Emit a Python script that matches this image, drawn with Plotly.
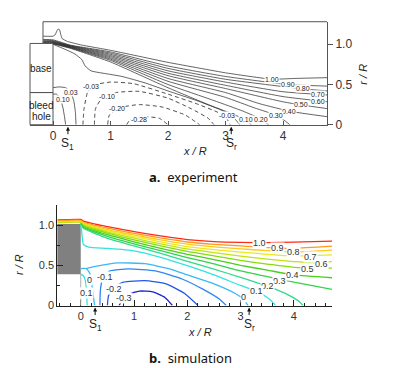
import plotly.graph_objects as go

# ---------------- Panel a (experiment): contour lines as (x/R, r/R) ----------------
a_u100 = [(-0.17, 1.10), (0.0, 1.10), (0.04, 1.12), (0.07, 1.17), (0.09, 1.19), (0.115, 1.18), (0.135, 1.12),
          (0.16, 1.07), (0.25, 1.035), (0.5, 0.99), (1.0, 0.925), (2.0, 0.775), (3.0, 0.645), (3.8, 0.565),
          (4.2, 0.575), (4.77, 0.585)]
a_u090 = [(-0.17, 1.06), (0.0, 1.055), (0.3, 0.99), (1.0, 0.905), (2.0, 0.73), (3.0, 0.60), (4.09, 0.50), (4.77, 0.48)]
a_u080 = [(-0.17, 1.05), (0.0, 1.045), (0.3, 0.985), (1.0, 0.89), (2.0, 0.70), (3.0, 0.565), (4.35, 0.445), (4.77, 0.42)]
a_u070 = [(-0.17, 1.04), (0.0, 1.037), (0.3, 0.98), (1.0, 0.875), (2.0, 0.67), (3.0, 0.53), (4.0, 0.41), (4.77, 0.37)]
a_u060 = [(-0.17, 1.032), (0.0, 1.03), (0.3, 0.975), (1.0, 0.86), (2.0, 0.64), (3.0, 0.49), (4.0, 0.35), (4.77, 0.285)]
a_u050 = [(-0.17, 1.025), (0.0, 1.025), (0.3, 0.97), (1.0, 0.845), (2.0, 0.61), (3.0, 0.45), (4.0, 0.285), (4.33, 0.245), (4.77, 0.20)]
a_u040 = [(-0.17, 1.02), (0.0, 1.02), (0.3, 0.965), (1.0, 0.83), (2.0, 0.575), (3.0, 0.40), (3.6, 0.26), (4.14, 0.165), (4.77, 0.10)]
a_u030 = [(0.0, 1.015), (0.3, 0.96), (1.0, 0.815), (2.0, 0.54), (3.0, 0.34), (3.5, 0.21), (3.91, 0.11), (4.12, 0.0)]
a_u020 = [(0.0, 1.01), (0.3, 0.955), (1.0, 0.80), (2.0, 0.50), (2.8, 0.30), (3.3, 0.17), (3.62, 0.07), (3.75, 0.0)]
a_u010 = [(0.0, 1.005), (0.3, 0.95), (1.0, 0.78), (2.0, 0.46), (2.7, 0.25), (3.1, 0.14), (3.35, 0.06), (3.45, 0.0)]
a_u003 = [(0.0, 1.0), (0.2, 0.94), (0.38, 0.88), (0.5, 0.81), (0.56, 0.73), (0.66, 0.67), (0.96, 0.63), (1.2, 0.6),
          (1.6, 0.52), (2.0, 0.42), (2.5, 0.30), (2.9, 0.19), (3.1, 0.12), (3.25, 0.0)]
a_bleed003 = [(0.0, 0.46), (0.1, 0.47), (0.22, 0.46), (0.3, 0.41), (0.36, 0.3), (0.39, 0.15), (0.4, 0.0)]
a_bleed010 = [(0.0, 0.38), (0.06, 0.38), (0.12, 0.33), (0.17, 0.22), (0.2, 0.1), (0.22, 0.0)]
a_un003 = [(0.52, 0.0), (0.54, 0.2), (0.6, 0.4), (0.7, 0.49), (1.0, 0.53), (1.4, 0.51), (2.0, 0.38), (2.5, 0.26),
           (2.85, 0.16), (3.0, 0.1), (3.08, 0.0)]
a_un010 = [(0.72, 0.0), (0.74, 0.2), (0.85, 0.33), (1.1, 0.40), (1.5, 0.415), (2.0, 0.33), (2.4, 0.2), (2.7, 0.08), (2.8, 0.0)]
a_un020 = [(0.95, 0.0), (0.98, 0.12), (1.15, 0.21), (1.5, 0.25), (1.9, 0.22), (2.3, 0.12), (2.55, 0.0)]
a_un028 = [(1.28, 0.0), (1.35, 0.07), (1.6, 0.1), (1.85, 0.08), (2.0, 0.0)]

a_label_text = ["1.00", "0.90", "0.80", "0.70", "0.60", "0.50", "0.40", "0.30", "0.20", "0.10",
                "-0.03", "-0.03", "-0.10", "-0.20", "-0.28", "0.03", "0.10"]
a_label_x = [3.8, 4.09, 4.35, 4.6, 4.6, 4.31, 4.1, 3.88, 3.62, 3.36, 3.03, 0.66, 0.94, 1.12, 1.5, 0.32, 0.17]
a_label_r = [0.565, 0.50, 0.445, 0.37, 0.29, 0.25, 0.16, 0.11, 0.06, 0.06, 0.12, 0.475, 0.355, 0.2, 0.06, 0.405, 0.315]

a_xticks = [0, 1, 2, 3, 4]
a_rticks = [0, 0.5, 1.0]
a_rticktext = ["0", "0.5", "1.0"]
a_stag_x = [0.26, 3.1]

# ---------------- Panel b (simulation) ----------------
b_u100 = [(-0.44, 1.065), (0.0, 1.07), (0.05, 1.05), (0.5, 0.98), (1.0, 0.92), (1.5, 0.865), (2.0, 0.82),
          (2.5, 0.795), (3.0, 0.785), (3.5, 0.782), (4.0, 0.787), (4.73, 0.80)]
b_u090 = [(-0.44, 1.052), (0.0, 1.058), (0.05, 1.035), (0.5, 0.962), (1.0, 0.898), (1.5, 0.84), (2.0, 0.79),
          (2.5, 0.76), (3.0, 0.742), (3.5, 0.72), (4.0, 0.712), (4.73, 0.74)]
b_u080 = [(-0.44, 1.042), (0.0, 1.048), (0.05, 1.025), (0.5, 0.945), (1.0, 0.877), (1.5, 0.815), (2.0, 0.762),
          (2.5, 0.728), (3.0, 0.705), (3.5, 0.682), (4.0, 0.666), (4.73, 0.69)]
b_u070 = [(-0.44, 1.035), (0.0, 1.04), (0.05, 1.015), (0.5, 0.93), (1.0, 0.857), (1.5, 0.792), (2.0, 0.733),
          (2.5, 0.695), (3.0, 0.665), (3.5, 0.637), (4.0, 0.617), (4.73, 0.63)]
b_u060 = [(-0.44, 1.028), (0.0, 1.033), (0.05, 1.005), (0.5, 0.915), (1.0, 0.837), (1.5, 0.767), (2.0, 0.703),
          (2.5, 0.657), (3.0, 0.615), (3.5, 0.577), (4.0, 0.547), (4.5, 0.527), (4.73, 0.55)]
b_u050 = [(0.0, 1.025), (0.05, 0.99), (0.5, 0.90), (1.0, 0.817), (1.5, 0.742), (2.0, 0.672), (2.5, 0.617),
          (3.0, 0.56), (3.5, 0.515), (4.0, 0.475), (4.73, 0.465)]
b_u040 = [(0.0, 1.02), (0.05, 0.98), (0.5, 0.88), (1.0, 0.792), (1.5, 0.712), (2.0, 0.637), (2.5, 0.572),
          (3.0, 0.50), (3.5, 0.44), (4.0, 0.38), (4.73, 0.345)]
b_u030 = [(0.0, 1.015), (0.05, 0.97), (0.5, 0.86), (1.0, 0.767), (1.5, 0.682), (2.0, 0.597), (2.5, 0.517),
          (3.0, 0.43), (3.5, 0.36), (4.0, 0.29), (4.73, 0.20)]
b_u020 = [(0.0, 1.01), (0.05, 0.96), (0.5, 0.835), (1.0, 0.742), (1.5, 0.647), (2.0, 0.55), (2.5, 0.452),
          (3.0, 0.35), (3.5, 0.24), (3.9, 0.13), (4.1, 0.05), (4.17, 0.0)]
b_u010 = [(0.0, 1.0), (0.02, 0.9), (0.05, 0.76), (0.15, 0.725), (0.5, 0.71), (1.0, 0.68), (1.5, 0.60), (2.0, 0.495),
          (2.5, 0.38), (3.0, 0.25), (3.3, 0.175), (3.5, 0.1), (3.62, 0.03), (3.65, 0.0)]
b_bleed010 = [(0.0, 0.39), (0.05, 0.37), (0.09, 0.3), (0.11, 0.15), (0.12, 0.0)]
b_u000a = [(0.0, 0.46), (0.1, 0.46), (0.17, 0.40), (0.2, 0.3), (0.23, 0.15), (0.26, 0.0)]
b_u000b = [(0.1, 0.46), (0.3, 0.49), (0.7, 0.53), (1.2, 0.52), (1.7, 0.45), (2.0, 0.38), (2.5, 0.27),
           (2.9, 0.15), (3.05, 0.08), (3.14, 0.0)]
b_un010 = [(0.36, 0.0), (0.37, 0.2), (0.42, 0.35), (0.55, 0.43), (0.9, 0.455), (1.4, 0.43), (1.9, 0.33),
           (2.3, 0.2), (2.6, 0.08), (2.73, 0.0)]
b_un020 = [(0.5, 0.0), (0.52, 0.12), (0.6, 0.22), (0.8, 0.29), (1.2, 0.31), (1.6, 0.27), (1.95, 0.15), (2.2, 0.0)]
b_un030 = [(0.72, 0.0), (0.78, 0.07), (0.9, 0.14), (1.1, 0.18), (1.35, 0.17), (1.58, 0.1), (1.72, 0.0)]

b_label_text = ["1.0", "0.9", "0.8", "0.7", "0.6", "0.5", "0.4", "0.3", "0.2", "0.1", "0", "0", "-0.1", "-0.2", "-0.3", "0.1"]
b_label_x = [3.36, 3.69, 4.0, 4.31, 4.51, 4.25, 3.97, 3.73, 3.5, 3.29, 3.06, 0.17, 0.45, 0.62, 0.82, 0.1]
b_label_r = [0.78, 0.71, 0.66, 0.60, 0.52, 0.45, 0.38, 0.31, 0.24, 0.18, 0.10, 0.32, 0.36, 0.21, 0.09, 0.15]
b_rticks = [0, 0.5, 1.0]
b_rticktext = ["0", "0.5", "1.0"]
b_stag_x = [0.27, 3.16]

# ---------------- styling ----------------
NARROW = "Liberation Sans Narrow, Arial Narrow, Liberation Sans, Arial, sans-serif"
SANS = "Liberation Sans, Arial, sans-serif"
W, H = 401, 368

A_XDOM = [22 / W, 319 / W]; A_XR = [-0.4, 4.765]
A_YDOM = [1 - 119 / H, 1 - 14 / H]; A_YR = [0, 1.28]
B_XDOM = [49.3 / W, 324 / W]; B_XR = [-0.44, 4.715]
B_YDOM = [1 - 303.3 / H, 1 - 200.8 / H]; B_YR = [0, 1.25]

b_colors = {
    1.0: "#ff2a14", 0.9: "#ff9a1a", 0.8: "#ffc81a", 0.7: "#ece81a", 0.6: "#bfe40f", 0.5: "#86dc0c",
    0.4: "#46cf1c", 0.3: "#33d14a", 0.2: "#30d98c", 0.1: "#33e3e0", 0.0: "#38b8f5",
    -0.1: "#2e86f2", -0.2: "#2456e6", -0.3: "#1c22d6",
}

fig = go.Figure()


def add_line(pts, xa, ya, color, width, dash="solid", smooth=0.5):
    fig.add_trace(go.Scatter(
        x=[p[0] for p in pts], y=[p[1] for p in pts], xaxis=xa, yaxis=ya, mode="lines",
        line=dict(color=color, width=width, dash=dash, shape="spline", smoothing=smooth),
        hoverinfo="skip", showlegend=False))


add_line(a_u100, "x", "y", "#222", 0.7, smooth=0.3)
for pts in [a_u090, a_u080, a_u070, a_u060, a_u050, a_u040, a_u030, a_u020, a_u010, a_u003,
            a_bleed003, a_bleed010]:
    add_line(pts, "x", "y", "#222", 0.7)
for pts in [a_un003, a_un010, a_un020, a_un028]:
    add_line(pts, "x", "y", "#222", 0.8, dash="4px,3px")

for lev, pts in [(1.0, b_u100), (0.9, b_u090), (0.8, b_u080), (0.7, b_u070), (0.6, b_u060), (0.5, b_u050),
                 (0.4, b_u040), (0.3, b_u030), (0.2, b_u020), (0.1, b_u010), (0.1, b_bleed010),
                 (0.0, b_u000a), (0.0, b_u000b), (-0.1, b_un010), (-0.2, b_un020), (-0.3, b_un030)]:
    add_line(pts, "x2", "y2", b_colors[lev], 1.3)


def to_paper(x, y, xdom, xr, ydom, yr):
    px = xdom[0] + (x - xr[0]) / (xr[1] - xr[0]) * (xdom[1] - xdom[0])
    py = ydom[0] + (y - yr[0]) / (yr[1] - yr[0]) * (ydom[1] - ydom[0])
    return px, py


def pa(x, y):
    return to_paper(x, y, A_XDOM, A_XR, A_YDOM, A_YR)


def pb(x, y):
    return to_paper(x, y, B_XDOM, B_XR, B_YDOM, B_YR)


shapes = []
frame = dict(color="#555", width=1)
x0, y0 = pa(-0.174, 1.28); x1, _ = pa(A_XR[1], 1.28)
shapes.append(dict(type="line", xref="paper", yref="paper", x0=x0, x1=x1, y0=y0, y1=y0, line=frame))
_, yb = pa(-0.174, 1.01)
shapes.append(dict(type="line", xref="paper", yref="paper", x0=x0, x1=x0, y0=yb, y1=y0, line=frame))
bx0, by_top = pa(-0.4, 1.01); bx1, by_mid = pa(0.0, 0.4); _, by_bot = pa(0.0, 0.0)
shapes.append(dict(type="rect", xref="paper", yref="paper", x0=bx0, x1=bx1, y0=by_mid, y1=by_top, line=frame))
shapes.append(dict(type="rect", xref="paper", yref="paper", x0=bx0, x1=bx1, y0=by_bot, y1=by_mid, line=frame))
gx0, gy_top = pb(-0.44, 1.015); gx1, gy_bot = pb(0.0, 0.39); _, g0 = pb(0.0, 0.0)
shapes.append(dict(type="rect", xref="paper", yref="paper", x0=gx0, x1=gx1, y0=gy_bot, y1=gy_top,
                   line=dict(width=0), fillcolor="#808080", layer="below"))
shapes.append(dict(type="line", xref="paper", yref="paper", x0=gx1, x1=gx1, y0=g0, y1=gy_bot,
                   line=dict(color="#b0b0b0", width=1)))

ann = []
for t, x, r in zip(a_label_text, a_label_x, a_label_r):
    ann.append(dict(x=x, y=r, xref="x", yref="y", text=t, showarrow=False, bgcolor="white", borderpad=0,
                    font=dict(family=NARROW, size=7, color="#222")))
for t, x, r in zip(b_label_text, b_label_x, b_label_r):
    ann.append(dict(x=x, y=r, xref="x2", yref="y2", text=t, showarrow=False, bgcolor="white", borderpad=0,
                    font=dict(family=SANS, size=9, color="#333")))

for xs, sub in zip(a_stag_x, ["1", "r"]):
    ann.append(dict(x=xs, y=0, xref="x", yref="y", text="S<sub>%s</sub>" % sub, showarrow=True,
                    arrowhead=2, arrowsize=0.8, arrowwidth=1, arrowcolor="#111", ax=0, ay=19, standoff=2,
                    font=dict(family=SANS, size=12, color="#222")))
for xs, sub in zip(b_stag_x, ["1", "r"]):
    ann.append(dict(x=xs, y=0, xref="x2", yref="y2", text="S<sub>%s</sub>" % sub, showarrow=True,
                    arrowhead=2, arrowsize=0.8, arrowwidth=1, arrowcolor="#111", ax=0, ay=19, standoff=2,
                    font=dict(family=SANS, size=12, color="#222")))


def ptxt(text, px, py, size, family=SANS, angle=0, color="#222"):
    ann.append(dict(x=px / W, y=1 - py / H, xref="paper", yref="paper", text=text, showarrow=False,
                    xanchor="center", yanchor="middle", textangle=angle,
                    font=dict(family=family, size=size, color=color)))


ptxt("base", 33, 62, 10, NARROW)
ptxt("bleed", 33, 99, 10, NARROW)
ptxt("hole", 33, 111, 10, NARROW)
ptxt("<i>x / R</i>", 187, 146, 11, NARROW)
ptxt("<i>r / R</i>", 355, 68, 11, NARROW, angle=-90)
ptxt("<b>a.</b>  experiment", 185, 172, 13, "Noto Sans, DejaVu Sans, sans-serif", color="#111")
ptxt("<i>r / R</i>", 11, 262, 11, SANS, angle=-90)
ptxt("<i>x / R</i>", 192, 330, 11, SANS)
ptxt("<b>b.</b>  simulation", 182, 357, 13, "Noto Sans, DejaVu Sans, sans-serif", color="#111")

fig.update_layout(
    width=W, height=H, margin=dict(l=0, r=0, t=0, b=0),
    paper_bgcolor="white", plot_bgcolor="rgba(0,0,0,0)", showlegend=False,
    shapes=shapes, annotations=ann,
    xaxis=dict(domain=A_XDOM, range=A_XR, anchor="y", showgrid=False, zeroline=False,
               showline=True, linecolor="#555", linewidth=1, ticks="inside", ticklen=4, tickcolor="#555",
               tickvals=a_xticks, tickfont=dict(family=NARROW, size=12, color="#333")),
    yaxis=dict(domain=A_YDOM, range=A_YR, anchor="x", side="right", showgrid=False, zeroline=False,
               showline=True, linecolor="#555", linewidth=1, ticks="outside", ticklen=5, tickcolor="#555",
               tickvals=a_rticks, ticktext=a_rticktext, tickfont=dict(family=NARROW, size=12, color="#333")),
    xaxis2=dict(domain=B_XDOM, range=B_XR, anchor="y2", showgrid=False, zeroline=False,
                showline=True, linecolor="#222", linewidth=1, ticks="inside", ticklen=6, tickcolor="#222",
                tick0=0, dtick=1, tickfont=dict(family=SANS, size=11, color="#333"),
                minor=dict(ticks="inside", ticklen=3, tickcolor="#222", dtick=0.2, tick0=0)),
    yaxis2=dict(domain=B_YDOM, range=B_YR, anchor="x2", showgrid=False, zeroline=False,
                showline=True, linecolor="#222", linewidth=1, ticks="inside", ticklen=6, tickcolor="#222",
                tickmode="array", tickvals=b_rticks, ticktext=b_rticktext,
                tickfont=dict(family=SANS, size=11, color="#333"),
                minor=dict(ticks="inside", ticklen=3, tickcolor="#222", tickmode="linear", dtick=0.25, tick0=0)),
)

fig.write_html("out.html")
